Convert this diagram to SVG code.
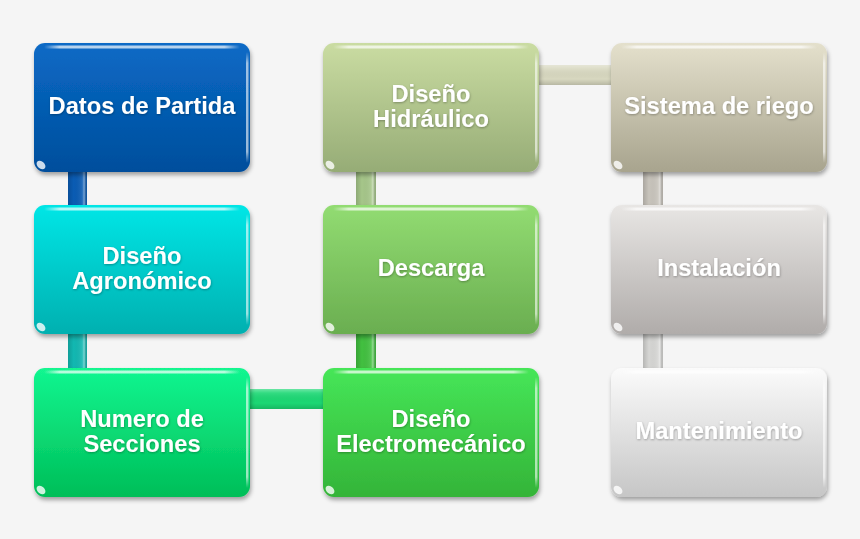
<svg xmlns="http://www.w3.org/2000/svg" width="860" height="539" viewBox="0 0 860 539">
<defs>
<filter id="sh" x="-10%" y="-10%" width="125%" height="130%">
<feDropShadow dx="1" dy="3" stdDeviation="2" flood-color="#000" flood-opacity="0.35"/>
</filter>
<filter id="tsh" x="-10%" y="-20%" width="120%" height="150%">
<feDropShadow dx="0.5" dy="1" stdDeviation="0.8" flood-color="#000" flood-opacity="0.3"/>
</filter>
<linearGradient id="g1" x1="0" y1="0" x2="0" y2="1"><stop offset="0" stop-color="#0a6ac6"/><stop offset="1" stop-color="#004e9c"/></linearGradient>
<linearGradient id="g2" x1="0" y1="0" x2="0" y2="1"><stop offset="0" stop-color="#00e6e6"/><stop offset="1" stop-color="#00b0b0"/></linearGradient>
<linearGradient id="g3" x1="0" y1="0" x2="0" y2="1"><stop offset="0" stop-color="#12f690"/><stop offset="1" stop-color="#00be58"/></linearGradient>
<linearGradient id="g4" x1="0" y1="0" x2="0" y2="1"><stop offset="0" stop-color="#46e658"/><stop offset="1" stop-color="#34b438"/></linearGradient>
<linearGradient id="g5" x1="0" y1="0" x2="0" y2="1"><stop offset="0" stop-color="#92dc72"/><stop offset="1" stop-color="#6aae50"/></linearGradient>
<linearGradient id="g6" x1="0" y1="0" x2="0" y2="1"><stop offset="0" stop-color="#cadca2"/><stop offset="1" stop-color="#96ac76"/></linearGradient>
<linearGradient id="g7" x1="0" y1="0" x2="0" y2="1"><stop offset="0" stop-color="#e4e0cc"/><stop offset="1" stop-color="#a8a48e"/></linearGradient>
<linearGradient id="g8" x1="0" y1="0" x2="0" y2="1"><stop offset="0" stop-color="#e8e6e4"/><stop offset="1" stop-color="#b0acaa"/></linearGradient>
<linearGradient id="g9" x1="0" y1="0" x2="0" y2="1"><stop offset="0" stop-color="#fbfbfb"/><stop offset="1" stop-color="#c6c6c6"/></linearGradient>
<linearGradient id="hl" x1="0" y1="0" x2="1" y2="0"><stop offset="0" stop-color="#fff" stop-opacity="0"/><stop offset="0.08" stop-color="#fff" stop-opacity="0.7"/><stop offset="0.92" stop-color="#fff" stop-opacity="0.7"/><stop offset="1" stop-color="#fff" stop-opacity="0"/></linearGradient>
<linearGradient id="hr" x1="0" y1="0" x2="0" y2="1"><stop offset="0" stop-color="#fff" stop-opacity="0"/><stop offset="0.1" stop-color="#fff" stop-opacity="0.6"/><stop offset="0.9" stop-color="#fff" stop-opacity="0.6"/><stop offset="1" stop-color="#fff" stop-opacity="0"/></linearGradient>
<linearGradient id="cv" x1="0" y1="0" x2="1" y2="0"><stop offset="0" stop-color="#000" stop-opacity="0.15"/><stop offset="0.3" stop-color="#000" stop-opacity="0"/><stop offset="0.75" stop-color="#fff" stop-opacity="0.1"/><stop offset="0.85" stop-color="#fff" stop-opacity="0.45"/><stop offset="1" stop-color="#000" stop-opacity="0.1"/></linearGradient>
<linearGradient id="ch" x1="0" y1="0" x2="0" y2="1"><stop offset="0" stop-color="#fff" stop-opacity="0.35"/><stop offset="0.2" stop-color="#fff" stop-opacity="0.1"/><stop offset="0.7" stop-color="#000" stop-opacity="0"/><stop offset="1" stop-color="#000" stop-opacity="0.15"/></linearGradient>
</defs>
<style>
.lbl{font-family:"Liberation Sans",Arial,sans-serif;font-weight:bold;font-size:23.7px;fill:#fff;text-anchor:middle}
.glint{fill:#fff;opacity:0.8}
</style>
<rect width="860" height="539" fill="#f5f5f5"/>
<g id="connectors">
<rect x="68" y="160" width="19" height="60" fill="#0a5cb4"/><rect x="68" y="160" width="19" height="60" fill="url(#cv)"/>
<rect x="68" y="320" width="19" height="60" fill="#12b8b2"/><rect x="68" y="320" width="19" height="60" fill="url(#cv)"/>
<rect x="240" y="389" width="95" height="20" fill="#1cd874"/><rect x="240" y="389" width="95" height="20" fill="url(#ch)"/>
<rect x="356" y="320" width="20" height="60" fill="#42c040"/><rect x="356" y="320" width="20" height="60" fill="url(#cv)"/>
<rect x="356" y="160" width="20" height="60" fill="#a6c68a"/><rect x="356" y="160" width="20" height="60" fill="url(#cv)"/>
<rect x="528" y="65" width="95" height="20" fill="#d8d8c0"/><rect x="528" y="65" width="95" height="20" fill="url(#ch)"/>
<rect x="643" y="160" width="20" height="60" fill="#c8c4bc"/><rect x="643" y="160" width="20" height="60" fill="url(#cv)"/>
<rect x="643" y="320" width="20" height="60" fill="#d6d6d4"/><rect x="643" y="320" width="20" height="60" fill="url(#cv)"/>
</g>
<g id="n1">
<rect x="34" y="43" width="216" height="129" rx="11" fill="url(#g1)" filter="url(#sh)"/>
<rect x="44" y="45.5" width="196" height="3" rx="1.5" fill="url(#hl)"/>
<rect x="246" y="52" width="2.5" height="111" rx="1.2" fill="url(#hr)"/>
<ellipse cx="41" cy="165" rx="5" ry="3.5" transform="rotate(40 41 165)" class="glint"/>
<text x="142" y="114" class="lbl" filter="url(#tsh)">Datos de Partida</text>
</g>
<g id="n2">
<rect x="34" y="205" width="216" height="129" rx="11" fill="url(#g2)" filter="url(#sh)"/>
<rect x="44" y="207.5" width="196" height="3" rx="1.5" fill="url(#hl)"/>
<rect x="246" y="214" width="2.5" height="111" rx="1.2" fill="url(#hr)"/>
<ellipse cx="41" cy="327" rx="5" ry="3.5" transform="rotate(40 41 327)" class="glint"/>
<text x="142" y="264" class="lbl" filter="url(#tsh)">Diseño</text>
<text x="142" y="289" class="lbl" filter="url(#tsh)">Agronómico</text>
</g>
<g id="n3">
<rect x="34" y="368" width="216" height="129" rx="11" fill="url(#g3)" filter="url(#sh)"/>
<rect x="44" y="370.5" width="196" height="3" rx="1.5" fill="url(#hl)"/>
<rect x="246" y="377" width="2.5" height="111" rx="1.2" fill="url(#hr)"/>
<ellipse cx="41" cy="490" rx="5" ry="3.5" transform="rotate(40 41 490)" class="glint"/>
<text x="142" y="427" class="lbl" filter="url(#tsh)">Numero de</text>
<text x="142" y="452" class="lbl" filter="url(#tsh)">Secciones</text>
</g>
<g id="n4">
<rect x="323" y="368" width="216" height="129" rx="11" fill="url(#g4)" filter="url(#sh)"/>
<rect x="333" y="370.5" width="196" height="3" rx="1.5" fill="url(#hl)"/>
<rect x="535" y="377" width="2.5" height="111" rx="1.2" fill="url(#hr)"/>
<ellipse cx="330" cy="490" rx="5" ry="3.5" transform="rotate(40 330 490)" class="glint"/>
<text x="431" y="427" class="lbl" filter="url(#tsh)">Diseño</text>
<text x="431" y="452" class="lbl" filter="url(#tsh)">Electromecánico</text>
</g>
<g id="n5">
<rect x="323" y="205" width="216" height="129" rx="11" fill="url(#g5)" filter="url(#sh)"/>
<rect x="333" y="207.5" width="196" height="3" rx="1.5" fill="url(#hl)"/>
<rect x="535" y="214" width="2.5" height="111" rx="1.2" fill="url(#hr)"/>
<ellipse cx="330" cy="327" rx="5" ry="3.5" transform="rotate(40 330 327)" class="glint"/>
<text x="431" y="276" class="lbl" filter="url(#tsh)">Descarga</text>
</g>
<g id="n6">
<rect x="323" y="43" width="216" height="129" rx="11" fill="url(#g6)" filter="url(#sh)"/>
<rect x="333" y="45.5" width="196" height="3" rx="1.5" fill="url(#hl)"/>
<rect x="535" y="52" width="2.5" height="111" rx="1.2" fill="url(#hr)"/>
<ellipse cx="330" cy="165" rx="5" ry="3.5" transform="rotate(40 330 165)" class="glint"/>
<text x="431" y="102" class="lbl" filter="url(#tsh)">Diseño</text>
<text x="431" y="127" class="lbl" filter="url(#tsh)">Hidráulico</text>
</g>
<g id="n7">
<rect x="611" y="43" width="216" height="129" rx="11" fill="url(#g7)" filter="url(#sh)"/>
<rect x="621" y="45.5" width="196" height="3" rx="1.5" fill="url(#hl)"/>
<rect x="823" y="52" width="2.5" height="111" rx="1.2" fill="url(#hr)"/>
<ellipse cx="618" cy="165" rx="5" ry="3.5" transform="rotate(40 618 165)" class="glint"/>
<text x="719" y="114" class="lbl" filter="url(#tsh)">Sistema de riego</text>
</g>
<g id="n8">
<rect x="611" y="205" width="216" height="129" rx="11" fill="url(#g8)" filter="url(#sh)"/>
<rect x="621" y="207.5" width="196" height="3" rx="1.5" fill="url(#hl)"/>
<rect x="823" y="214" width="2.5" height="111" rx="1.2" fill="url(#hr)"/>
<ellipse cx="618" cy="327" rx="5" ry="3.5" transform="rotate(40 618 327)" class="glint"/>
<text x="719" y="276" class="lbl" filter="url(#tsh)">Instalación</text>
</g>
<g id="n9">
<rect x="611" y="368" width="216" height="129" rx="11" fill="url(#g9)" filter="url(#sh)"/>
<rect x="621" y="370.5" width="196" height="3" rx="1.5" fill="url(#hl)"/>
<rect x="823" y="377" width="2.5" height="111" rx="1.2" fill="url(#hr)"/>
<ellipse cx="618" cy="490" rx="5" ry="3.5" transform="rotate(40 618 490)" class="glint"/>
<text x="719" y="439" class="lbl" filter="url(#tsh)">Mantenimiento</text>
</g>
</svg>
